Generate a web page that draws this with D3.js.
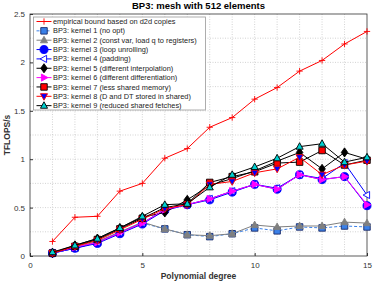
<!DOCTYPE html>
<meta charset="utf-8">
<style>
body { margin: 0; background: #fff; }
svg { font-family: "Liberation Sans", Arial, sans-serif; }
.grid line { stroke: #c8c8c8; stroke-dasharray: 1,1.5; stroke-width: 0.8; }
.axis path { display: none; }
.axis line { stroke: #333; }
.axis text { fill: #333; font-size: 8px; }
</style>
<svg width="374" height="289"></svg>
<script src="https://d3js.org/d3.v7.min.js"></script>
<script>

var degrees = [1, 2, 3, 4, 5, 6, 7, 8, 9, 10, 11, 12, 13, 14, 15];

var bound   = [0.15, 0.40, 0.41, 0.67, 0.75, 1.01, 1.11, 1.33, 1.43, 1.62, 1.74, 1.91, 2.02, 2.19, 2.32];
var kernel1 = [0.03, 0.08, 0.14, 0.24, 0.34, 0.28, 0.22, 0.20, 0.23, 0.29, 0.26, 0.30, 0.29, 0.31, 0.30];
var kernel2 = [0.03, 0.09, 0.15, 0.25, 0.35, 0.28, 0.22, 0.21, 0.23, 0.32, 0.30, 0.31, 0.31, 0.35, 0.34];
var kernel3 = [0.03, 0.08, 0.13, 0.23, 0.33, 0.47, 0.53, 0.58, 0.66, 0.74, 0.69, 0.84, 0.79, 0.82, 0.52];
var kernel4 = [0.03, 0.08, 0.14, 0.24, 0.34, 0.48, 0.53, 0.59, 0.67, 0.74, 0.70, 0.84, 0.80, 0.96, 0.63];
var kernel5 = [0.03, 0.11, 0.18, 0.29, 0.40, 0.45, 0.58, 0.73, 0.80, 0.88, 0.98, 1.07, 0.90, 1.07, 1.00];
var kernel6 = [0.03, 0.09, 0.14, 0.24, 0.34, 0.48, 0.53, 0.59, 0.67, 0.74, 0.69, 0.84, 0.79, 0.82, 0.53];
var kernel7 = [0.03, 0.10, 0.17, 0.28, 0.39, 0.50, 0.54, 0.76, 0.82, 0.87, 0.96, 0.97, 1.09, 0.94, 0.99];
var kernel8 = [0.03, 0.10, 0.16, 0.27, 0.38, 0.49, 0.53, 0.74, 0.77, 0.86, 0.90, 1.02, 0.84, 0.94, 0.98];
var kernel9 = [0.04, 0.11, 0.18, 0.29, 0.41, 0.53, 0.54, 0.71, 0.84, 0.92, 1.01, 1.13, 1.16, 0.97, 1.02];

var xTicks = [0, 5, 10, 15];
var yTicks = [0, 0.5, 1, 1.5, 2, 2.5];

var series = [
    {name: "empirical bound based on d2d copies", values: bound, line: "#ff0000", marker: "plus", fill: "none", edge: "#ff0000"},
    {name: "BP3: kernel 1 (no opt)", values: kernel1, line: "#3a80e8", dash: "3,2", marker: "square", fill: "#3a80e8", edge: "#1a2a6a"},
    {name: "BP3: kernel 2 (const var, load q to registers)", values: kernel2, line: "#808080", marker: "triangle", fill: "#808080", edge: "#808080"},
    {name: "BP3: kernel 3 (loop unrolling)", values: kernel3, line: "#0000ff", marker: "circle", fill: "#0000ff", edge: "#0000ff"},
    {name: "BP3: kernel 4 (padding)", values: kernel4, line: "#0000ff", marker: "left", fill: "#ffffff", edge: "#0000ff"},
    {name: "BP3: kernel 5 (different interpolation)", values: kernel5, line: "#000000", marker: "diamond", fill: "#000000", edge: "#000000"},
    {name: "BP3: kernel 6 (different differentiation)", values: kernel6, line: "#ff00ff", marker: "right", fill: "#ff00ff", edge: "#ff00ff"},
    {name: "BP3: kernel 7 (less shared memory)", values: kernel7, line: "#000000", marker: "square", fill: "#ff0000", edge: "#000000"},
    {name: "BP3: kernel 8 (D and DT stored in shared)", values: kernel8, line: "#ff0000", marker: "down", fill: "#0000ff", edge: "#ff0000"},
    {name: "BP3: kernel 9 (reduced shared fetches)", values: kernel9, line: "#000000", marker: "triangle", fill: "#00d0d0", edge: "#000000"}
];

var svg = d3.select("svg"),
    margin = {top: 14, right: 7, bottom: 33, left: 30},
    width = +svg.attr("width") - margin.left - margin.right,
    height = +svg.attr("height") - margin.top - margin.bottom;

var x = d3.scaleLinear().domain([0, 15]).range([0, width]),
    y = d3.scaleLinear().domain([0, 2.5]).range([height, 0]);

var g = svg.append("g")
    .attr("transform", "translate(" + margin.left + "," + margin.top + ")");

// dotted grid, every degree and every 0.25
g.append("g").attr("class", "grid")
    .selectAll("line").data(d3.range(1, 15)).enter().append("line")
    .attr("x1", function(d) { return x(d); }).attr("x2", function(d) { return x(d); })
    .attr("y1", 0).attr("y2", height);
g.append("g").attr("class", "grid")
    .selectAll("line").data(d3.range(0.25, 2.5, 0.25)).enter().append("line")
    .attr("y1", function(d) { return y(d); }).attr("y2", function(d) { return y(d); })
    .attr("x1", 0).attr("x2", width);

g.append("g")
    .attr("class", "axis")
    .attr("transform", "translate(0," + height + ")")
    .call(d3.axisBottom(x).tickValues(xTicks).tickSize(-3).tickPadding(6).tickFormat(d3.format("d")));
g.append("g")
    .attr("class", "axis")
    .call(d3.axisLeft(y).tickValues(yTicks).tickSize(-3).tickPadding(5).tickFormat(function(d) { return d; }));

g.append("rect")
    .attr("width", width).attr("height", height)
    .attr("fill", "none").attr("stroke", "#333").attr("stroke-width", 0.8);

var line = d3.line()
    .x(function(d, i) { return x(degrees[i]); })
    .y(function(d) { return y(d); });

function marker(sel, type, s) {
    var p;
    if (type == "circle") p = d3.symbol(d3.symbolCircle, s * s * 0.9)();
    else if (type == "square") p = "M" + (-s/2) + "," + (-s/2) + "h" + s + "v" + s + "h" + (-s) + "Z";
    else if (type == "diamond") p = "M0," + (-s*0.7) + "L" + (s*0.5) + ",0L0," + (s*0.7) + "L" + (-s*0.5) + ",0Z";
    else if (type == "triangle") p = "M0," + (-s*0.6) + "L" + (s*0.55) + "," + (s*0.4) + "L" + (-s*0.55) + "," + (s*0.4) + "Z";
    else if (type == "down") p = "M0," + (s*0.6) + "L" + (s*0.55) + "," + (-s*0.4) + "L" + (-s*0.55) + "," + (-s*0.4) + "Z";
    else if (type == "left") p = "M" + (-s*0.6) + ",0L" + (s*0.4) + "," + (-s*0.55) + "L" + (s*0.4) + "," + (s*0.55) + "Z";
    else if (type == "right") p = "M" + (s*0.6) + ",0L" + (-s*0.4) + "," + (-s*0.55) + "L" + (-s*0.4) + "," + (s*0.55) + "Z";
    else p = "M" + (-s*0.45) + ",0H" + (s*0.45) + "M0," + (-s*0.45) + "V" + (s*0.45);
    sel.attr("d", p);
}

function markerSize(type) {
    if (type == "plus") return 7;
    if (type == "circle") return 7.5;
    return 6.5;
}

series.forEach(function(s) {
    var sg = g.append("g");
    sg.append("path")
        .datum(s.values)
        .attr("fill", "none")
        .attr("stroke", s.line)
        .attr("stroke-width", 1)
        .attr("stroke-dasharray", s.dash || null)
        .attr("d", line);
    sg.selectAll("path.m")
        .data(s.values).enter().append("path")
        .attr("class", "m")
        .attr("transform", function(d, i) { return "translate(" + x(degrees[i]) + "," + y(d) + ")"; })
        .attr("fill", s.fill)
        .attr("stroke", s.edge)
        .attr("stroke-width", 0.9)
        .call(marker, s.marker, markerSize(s.marker));
});

// legend
var lg = svg.append("g").attr("transform", "translate(33.5,17)");
lg.append("rect")
    .attr("width", 172).attr("height", 93)
    .attr("fill", "#fff").attr("stroke", "#999").attr("stroke-width", 0.8);
series.forEach(function(s, i) {
    var row = lg.append("g").attr("transform", "translate(0," + (4.5 + i * 9.35) + ")");
    row.append("line")
        .attr("x1", 3).attr("x2", 18)
        .attr("stroke", s.line).attr("stroke-width", 1)
        .attr("stroke-dasharray", s.dash || null);
    row.append("path")
        .attr("transform", "translate(10.5,0)")
        .attr("fill", s.fill).attr("stroke", s.edge).attr("stroke-width", 0.9)
        .call(marker, s.marker, markerSize(s.marker));
    row.append("text")
        .attr("x", 19.5).attr("dy", "0.35em")
        .style("font-size", "7.4px").attr("fill", "#222")
        .text(s.name);
});

svg.append("text")
    .attr("x", margin.left + width / 2)
    .attr("y", 9)
    .style("text-anchor", "middle")
    .style("font-weight", "bold").style("font-size", "9.5px")
    .text("BP3: mesh with 512 elements");

svg.append("text")
    .attr("x", margin.left + width / 2)
    .attr("y", 279)
    .style("text-anchor", "middle")
    .style("font-weight", "bold").style("font-size", "8.5px").attr("fill", "#333")
    .text("Polynomial degree");

svg.append("text")
    .attr("transform", "rotate(-90)")
    .attr("x", -(margin.top + height / 2))
    .attr("y", 10)
    .style("text-anchor", "middle")
    .style("font-weight", "bold").style("font-size", "8.5px").attr("fill", "#333")
    .text("TFLOPS/s");
</script>
